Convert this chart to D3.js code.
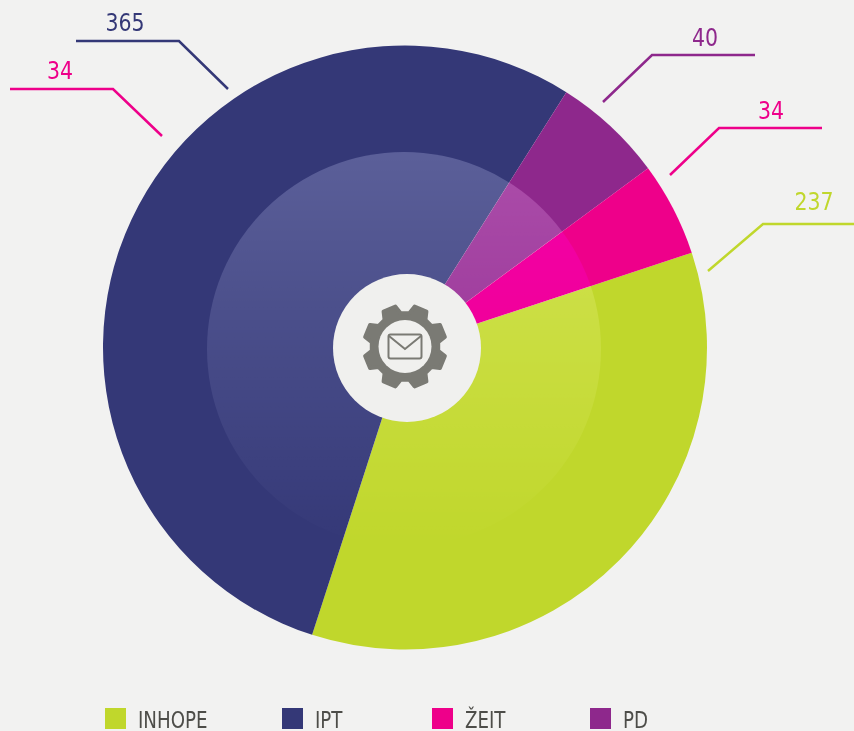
<!DOCTYPE html>
<html>
<head>
<meta charset="utf-8">
<script src="https://cdn.jsdelivr.net/npm/d3@7"></script>
<style>
    html, body { margin: 0; padding: 0; background: #f2f2f1; overflow: hidden; }
    svg { display: block; }
    text { font-family: "DejaVu Sans", sans-serif; font-stretch: condensed; }
</style>
</head>
<body>
<div id="chart"></div>
<script>
// Slices, in clockwise drawing order
var categories = ["INHOPE", "IPT", "PD", "ŽEIT"];
var values = [237, 365, 40, 34];
var colors = ["#c0d72c", "#343877", "#8e288c", "#ee008a"];

// Legend reads in a different order than the slices
var legendOrder = ["INHOPE", "IPT", "ŽEIT", "PD"];
var legendX = [105, 282, 432, 590];

// Callout labels as printed, the left "34" sits on the IPT side in the original
var calloutLabels = ["365", "34", "40", "34", "237"];
var calloutSeries = ["IPT", "ŽEIT", "PD", "ŽEIT", "INHOPE"];
var calloutLayout = [
    { points: [[76, 41], [179, 41], [228, 89]], textX: 125, textY: 31 },
    { points: [[10, 89], [113, 89], [162, 136]], textX: 60, textY: 79 },
    { points: [[603, 102], [652, 55], [755, 55]], textX: 705, textY: 46 },
    { points: [[670, 175], [719, 128], [822, 128]], textX: 771, textY: 119 },
    { points: [[708, 271], [763, 224], [854, 224]], textX: 814, textY: 210 }
];

var svgWidth = 854;
var svgHeight = 731;
var cx = 405;
var cy = 347.5;
var outerRadius = 302;
var startDeg = 71.7;

var color = d3.scaleOrdinal().domain(categories).range(colors);

var svg = d3.select("#chart").append("svg")
    .attr("width", svgWidth)
    .attr("height", svgHeight);

svg.append("rect")
    .attr("width", svgWidth)
    .attr("height", svgHeight)
    .attr("fill", "#f2f2f1");

// White fade over the middle of the pie
var defs = svg.append("defs");
var fade = defs.append("linearGradient")
    .attr("id", "innerFade")
    .attr("x1", 0).attr("y1", 0)
    .attr("x2", 0).attr("y2", 1);
fade.append("stop").attr("offset", "0%").attr("stop-color", "#fff").attr("stop-opacity", 0.62);
fade.append("stop").attr("offset", "100%").attr("stop-color", "#fff").attr("stop-opacity", 0);

var pie = d3.pie()
    .sort(null)
    .value(d => d.value)
    .startAngle(startDeg * Math.PI / 180)
    .endAngle((startDeg + 360) * Math.PI / 180);

var arc = d3.arc().innerRadius(0).outerRadius(outerRadius);

var slices = categories.map((c, i) => ({ name: c, value: values[i] }));

var chartGroup = svg.append("g")
    .attr("transform", `translate(${cx}, ${cy})`);

chartGroup.selectAll("path")
    .data(pie(slices))
    .enter()
    .append("path")
    .attr("d", arc)
    .attr("fill", d => color(d.data.name));

// soft-light keeps the pink saturated, a plain white wash greys it
svg.append("circle")
    .attr("cx", 404)
    .attr("cy", 349)
    .attr("r", 197)
    .attr("fill", "url(#innerFade)")
    .style("mix-blend-mode", "soft-light");

// Center badge
svg.append("circle")
    .attr("cx", 407)
    .attr("cy", 348)
    .attr("r", 74)
    .attr("fill", "#f0f0ee");

// Gear icon
var iconColor = "#7a7a74";
var icon = svg.append("g").attr("transform", "translate(405, 346.5)");
var gearPoints = [];
d3.range(8).forEach(function (i) {
    var mid = (22.5 + i * 45) * Math.PI / 180;
    var rootStep = 15 * Math.PI / 180;
    var tipStep = 9 * Math.PI / 180;
    gearPoints.push([mid - rootStep, 33.5]);
    gearPoints.push([mid - tipStep, 41]);
    gearPoints.push([mid + tipStep, 41]);
    gearPoints.push([mid + rootStep, 33.5]);
});
var gearLine = d3.lineRadial().curve(d3.curveLinearClosed);
icon.append("path")
    .attr("d", gearLine(gearPoints))
    .attr("fill", iconColor)
    .attr("stroke", iconColor)
    .attr("stroke-width", 4)
    .attr("stroke-linejoin", "round");
icon.append("circle").attr("r", 26.5).attr("fill", "#f0f0ee");
icon.append("rect")
    .attr("x", -16.5).attr("y", -12)
    .attr("width", 33).attr("height", 24)
    .attr("rx", 2)
    .attr("fill", "none")
    .attr("stroke", iconColor)
    .attr("stroke-width", 2);
icon.append("path")
    .attr("d", d3.line()([[-16, -10.5], [0, 2.5], [16, -10.5]]))
    .attr("fill", "none")
    .attr("stroke", iconColor)
    .attr("stroke-width", 2);

// Callouts
var callouts = svg.selectAll("g.callout")
    .data(calloutLabels)
    .enter()
    .append("g")
    .attr("class", "callout");

callouts.append("path")
    .attr("d", (d, i) => d3.line()(calloutLayout[i].points))
    .attr("fill", "none")
    .attr("stroke", (d, i) => color(calloutSeries[i]))
    .attr("stroke-width", 2.5);

// The original face is narrower than anything installed, so squeeze it sideways
callouts.append("text")
    .attr("transform", (d, i) => `translate(${calloutLayout[i].textX}, ${calloutLayout[i].textY}) scale(0.95, 1)`)
    .attr("text-anchor", "middle")
    .attr("font-size", 24)
    .attr("fill", (d, i) => color(calloutSeries[i]))
    .text(d => d);

// Legend
var legend = svg.selectAll("g.legend")
    .data(legendOrder)
    .enter()
    .append("g")
    .attr("class", "legend")
    .attr("transform", (d, i) => `translate(${legendX[i]}, 708)`);

legend.append("rect")
    .attr("width", 21)
    .attr("height", 21)
    .attr("fill", d => color(d));

legend.append("text")
    .attr("transform", "translate(33, 20) scale(0.9, 1)")
    .attr("font-size", 22.5)
    .attr("fill", "#4d4d49")
    .text(d => d);
</script>
</body>
</html>
